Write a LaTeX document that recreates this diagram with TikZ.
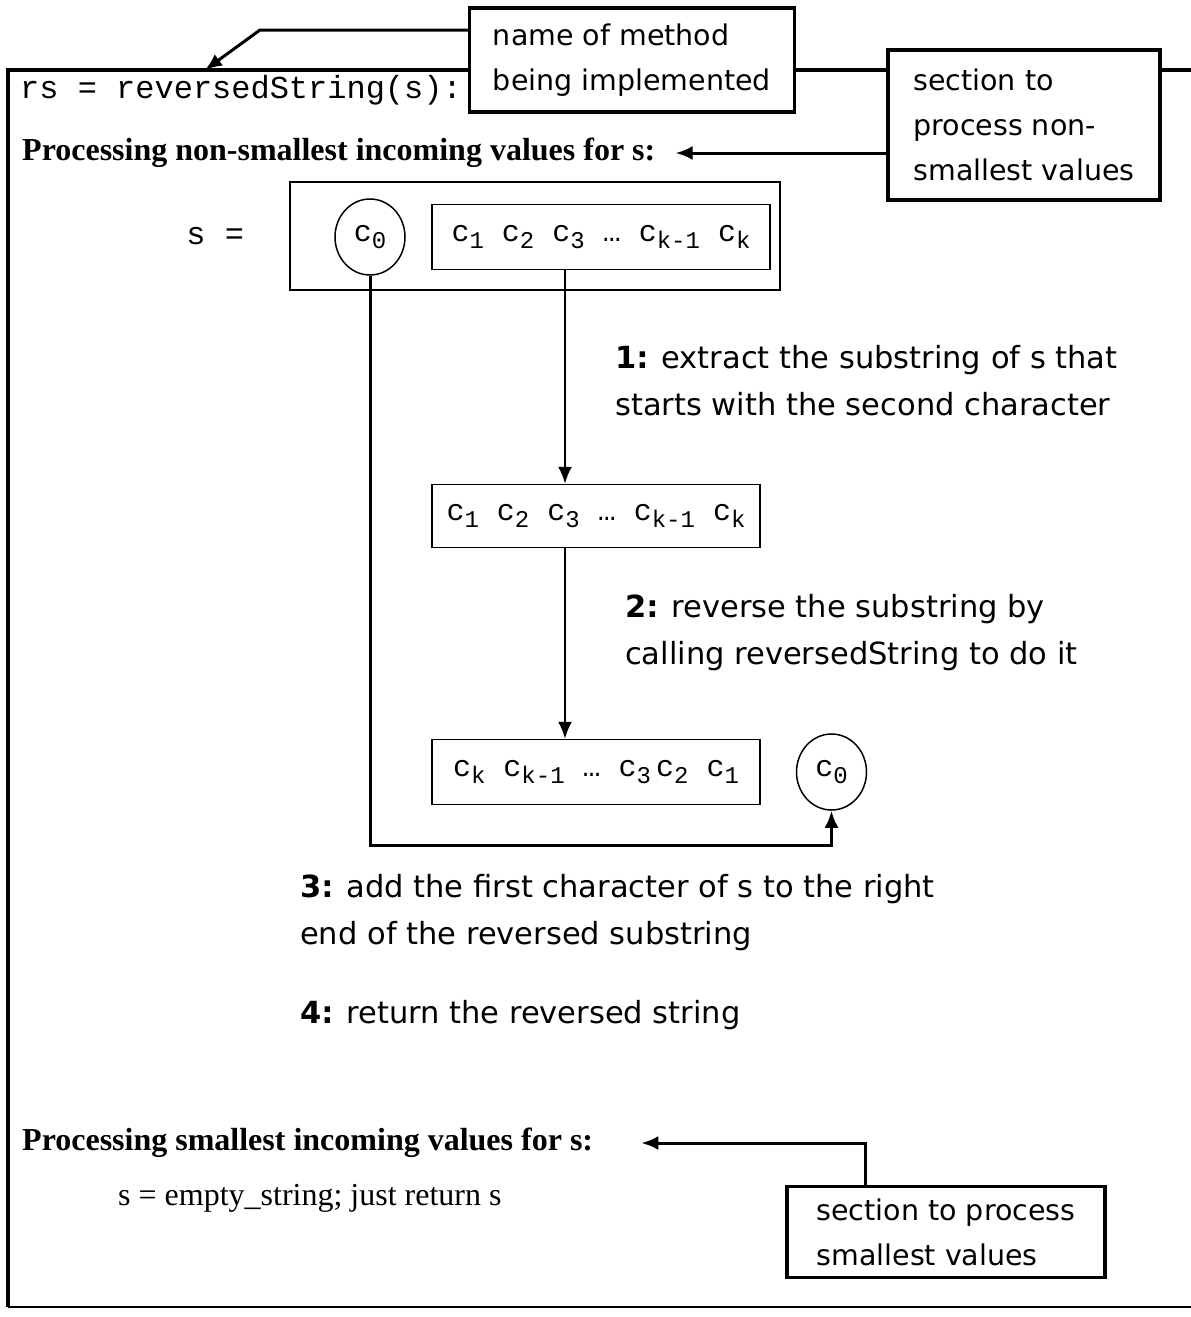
\documentclass[tikz,border=0pt]{standalone}
\usepackage{fontspec}
\setmainfont{Liberation Serif}
\setmonofont{Liberation Mono}
\newfontfamily\handfont{DejaVu Sans}
\usetikzlibrary{arrows.meta}
\usetikzlibrary{shapes.geometric}
\usetikzlibrary{positioning}
\newcommand{\chsub}[1]{\raisebox{-0.22em}{\fontsize{24}{24}\selectfont #1}}

\begin{document}
\begin{tikzpicture}[
			     x=1pt, y=-1pt,
			     >={Latex[length=17pt,width=14pt]},
			     callout box/.style={draw, line width=3.2pt, fill=white, align=left, inner sep=0pt, font=\handfont\fontsize{28.5}{45}\selectfont},
			     value box/.style={draw, line width=1.5pt, inner sep=0pt, font=\ttfamily\fontsize{30}{32}\selectfont},
			     value circle/.style={ellipse, draw, line width=1.5pt, inner sep=0pt, minimum width=70pt, minimum height=76pt, font=\ttfamily\fontsize{30}{32}\selectfont},
			     step text/.style={anchor=west, align=left, inner sep=0pt, font=\handfont\fontsize{30.5}{47}\selectfont},
			     heading/.style={anchor=west, inner sep=0pt, font=\bfseries\fontsize{32}{34}\selectfont},
			     normal line/.style={->, line width=2pt},
			     pointer line/.style={->, line width=3pt}
			     ] 
\useasboundingbox (0,0) rectangle (1191,1317);
% frame of the method
\draw[line width=3.5pt] (1200,70) -- (8,70) -- (8,1307);
\draw[line width=2pt] (8,1307) -- (1200,1307);
\node[anchor=west, inner sep=0pt, font=\ttfamily\fontsize{32}{36}\selectfont] (code) at (20,90) {rs = reversedString(s):};

\node[callout box, minimum width=325pt, minimum height=104pt] (name) at (632,60) {name of method\\being implemented};
\node[callout box, minimum width=272pt, minimum height=150pt] (sect) at (1024,125) {section to\\process non-\\smallest values};
\node[heading] (proc1) at (22,153) {Processing non-smallest incoming values for s:};
\coordinate (knee) at (260,30);
\coordinate (tip) at (205,70);
\draw[pointer line] (name.west |- knee) -- (knee) -- (tip);
\draw[pointer line] (sect.west |- proc1) -- ([xshift=20pt]proc1.east);

\node[value box, minimum width=490pt, minimum height=108pt] (sbox) at (535,236) {};
\node[left=45pt of sbox, inner sep=0pt, font=\ttfamily\fontsize{32}{36}\selectfont] (slabel) {s =};
\node[value circle] (c0) at (370,237) {c\chsub{0}};
\node[value box, minimum width=338pt, minimum height=65pt] (sub) at (601,237) {c\chsub{1} c\chsub{2} c\chsub{3} … c\chsub{k-1} c\chsub{k}};
\node[value box, minimum width=328pt, minimum height=63pt] (mid) at (596,516) {c\chsub{1} c\chsub{2} c\chsub{3} … c\chsub{k-1} c\chsub{k}};
\node[value box, minimum width=328pt, minimum height=65pt] (rev) at (596,772) {c\chsub{k} c\chsub{k-1} … c\chsub{3}\,c\chsub{2} c\chsub{1}};
\node[value circle, right=35pt of rev] (c0b) {c\chsub{0}};

\coordinate (col) at (565,0);
\coordinate (base) at (0,845);
\path (sub.south -| col) edge[normal line] (mid.north -| col);
\path (mid.south -| col) edge[normal line] (rev.north -| col);
\draw[pointer line] (c0.south) -- (c0.south |- base) -- (c0b.south |- base) -- (c0b.south);

\node[step text] (step1) at (615,381) {\textbf{1:} extract the substring of s that\\starts with the second character};
\node[step text] (step2) at (625,633) {\textbf{2:} reverse the substring by\\calling reversedString to do it};
\node[step text] (step3) at (300,913) {\textbf{3:} add the first character of s to the right\\end of the reversed substring};
\node[step text] (step4) at (300,1015) {\textbf{4:} return the reversed string};

\node[heading] (proc2) at (22,1143) {Processing smallest incoming values for s:};
\node[anchor=west, inner sep=0pt, font=\fontsize{32}{34}\selectfont] (empty) at (118,1198) {s = empty\_string; just return s};
\node[callout box, minimum width=318pt, minimum height=91pt] (sect2) at (946,1232) {section to process\\smallest values};
\coordinate (knee2) at (865,1143);
\draw[pointer line] (sect2.north -| knee2) -- (knee2) -- ([xshift=48pt]proc2.east);
\end{tikzpicture}
\end{document}
